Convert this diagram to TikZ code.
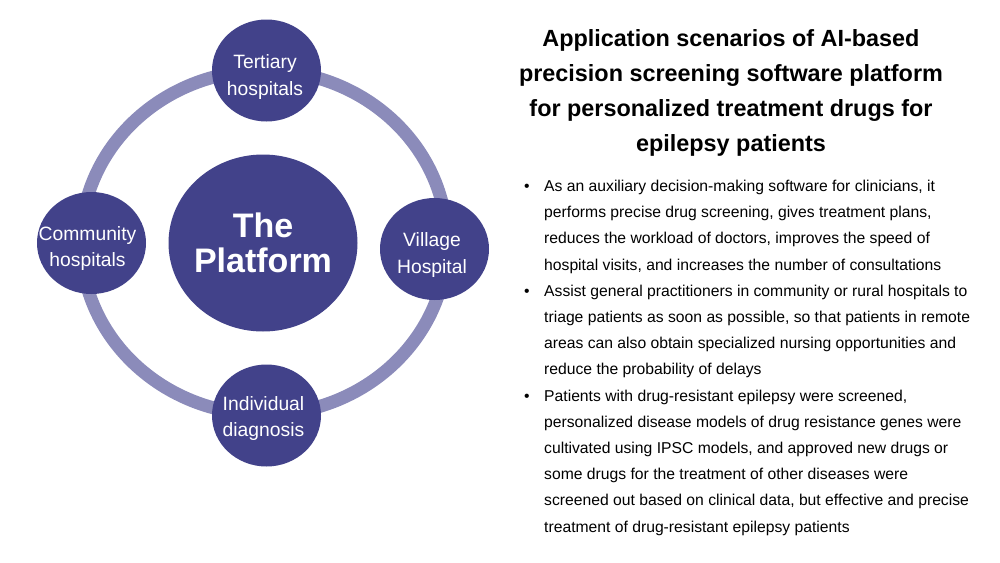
\documentclass[tikz,border=0pt]{standalone}
\usepackage{fontspec}
\setmainfont{Liberation Sans}
\usetikzlibrary{shapes.geometric}
\definecolor{navy}{HTML}{42428A}
\definecolor{ringc}{HTML}{8B8BBA}
\begin{document}
\begin{tikzpicture}[x=1pt,y=-1pt,
  ringshape/.style={ellipse,draw=ringc,line width=13pt,minimum width=366pt,minimum height=344pt,inner sep=0pt},
  hubshape/.style={ellipse,fill=navy,minimum width=189pt,minimum height=177pt,inner sep=0pt},
  spokeshape/.style={ellipse,fill=navy,minimum width=109pt,minimum height=102pt,inner sep=0pt},
  lbl/.style={anchor=base,inner sep=0pt,text=white,font=\fontsize{19.3}{23}\selectfont},
  hublbl/.style={anchor=base,inner sep=0pt,text=white,font=\fontsize{34}{40}\selectfont\bfseries},
  titlelbl/.style={anchor=base,inner sep=0pt,font=\fontsize{23.4}{28}\selectfont\bfseries},
  bodylbl/.style={anchor=base west,inner sep=0pt,font=\fontsize{15.7}{19}\selectfont},
  bulletlbl/.style={anchor=base west,inner sep=0pt,font=\fontsize{15.7}{19}\selectfont}
]
\useasboundingbox (0,0) rectangle (1000,562);
% ring and circles
\node[ringshape] (ring) at (264,242.5) {};
\node[hubshape] (hub) at (263,243) {};
\node[spokeshape] (tert) at (266.5,70.5) {};
\node[spokeshape] (comm) at (91.5,243) {};
\node[spokeshape] (vill) at (434.5,249) {};
\node[spokeshape] (indi) at (266.5,415.5) {};
% circle labels
\node[hublbl] (hubA) at (263,237.3) {The};
\node[hublbl] (hubB) at (263,272.7) {Platform};
\node[lbl] (tertA) at (265,68.3) {Tertiary};
\node[lbl] (tertB) at (265,95) {hospitals};
\node[lbl] (commA) at (87.5,240.7) {Community};
\node[lbl] (commB) at (87.5,266.7) {hospitals};
\node[lbl] (villA) at (432,246.7) {Village};
\node[lbl] (villB) at (432,273.3) {Hospital};
\node[lbl] (indiA) at (263.5,410.7) {Individual};
\node[lbl] (indiB) at (263.5,436.7) {diagnosis};
% title
\node[titlelbl] (t1) at (731,46) {Application scenarios of AI-based};
\node[titlelbl] (t2) at (731,81.3) {precision screening software platform};
\node[titlelbl] (t3) at (731,116.6) {for personalized treatment drugs for};
\node[titlelbl] (t4) at (731,151.9) {epilepsy patients};
% bullets
\node[bulletlbl] (b1) at (524,191.5) {•};
\node[bulletlbl] (b2) at (524,296.3) {•};
\node[bulletlbl] (b3) at (524,401.1) {•};
% body text
\node[bodylbl] (l1) at (544,191.5) {As an auxiliary decision-making software for clinicians, it};
\node[bodylbl] (l2) at (544,217.7) {performs precise drug screening, gives treatment plans,};
\node[bodylbl] (l3) at (544,243.9) {reduces the workload of doctors, improves the speed of};
\node[bodylbl] (l4) at (544,270.1) {hospital visits, and increases the number of consultations};
\node[bodylbl] (l5) at (544,296.3) {Assist general practitioners in community or rural hospitals to};
\node[bodylbl] (l6) at (544,322.5) {triage patients as soon as possible, so that patients in remote};
\node[bodylbl] (l7) at (544,348.7) {areas can also obtain specialized nursing opportunities and};
\node[bodylbl] (l8) at (544,374.9) {reduce the probability of delays};
\node[bodylbl] (l9) at (544,401.1) {Patients with drug-resistant epilepsy were screened,};
\node[bodylbl] (l10) at (544,427.3) {personalized disease models of drug resistance genes were};
\node[bodylbl] (l11) at (544,453.5) {cultivated using IPSC models, and approved new drugs or};
\node[bodylbl] (l12) at (544,479.7) {some drugs for the treatment of other diseases were};
\node[bodylbl] (l13) at (544,505.9) {screened out based on clinical data, but effective and precise};
\node[bodylbl] (l14) at (544,532.1) {treatment of drug-resistant epilepsy patients};
\end{tikzpicture}
\end{document}
